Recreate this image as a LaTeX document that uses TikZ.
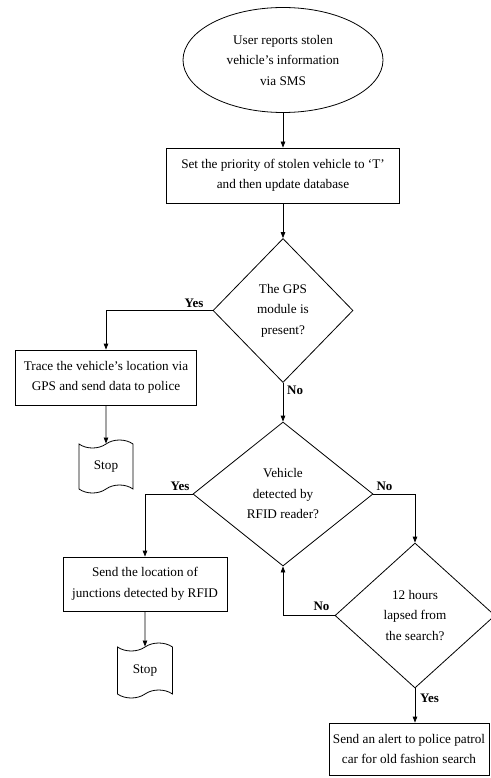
\documentclass[tikz,border=0pt]{standalone}
\usepackage{fontspec}
\setmainfont{Liberation Serif}
\usepackage{tikz}
\usetikzlibrary{positioning,arrows.meta,shapes.geometric,shapes.symbols}

\begin{document}
\begin{tikzpicture}[
  x=1pt, y=-1pt,
  every node/.style={align=center, font=\fontsize{13.2}{20.5}\selectfont, inner sep=2pt},
  proc/.style={draw, line width=0.8pt, minimum height=55pt},
  decide/.style={draw, diamond, line width=0.8pt, inner sep=0pt},
  term/.style={draw, ellipse, line width=0.8pt, minimum width=200pt, minimum height=105pt},
  stopdoc/.style={draw, tape, tape bend top=in and out, tape bend bottom=in and out,
    tape bend height=8pt, line width=0.8pt, minimum width=54pt, minimum height=53pt},
  lbl/.style={font=\fontsize{13}{15}\selectfont\bfseries, inner sep=3pt},
  arrow/.style={-{Triangle[length=6pt,width=4.5pt]}, line width=0.8pt}
]
  \useasboundingbox (0,0) rectangle (490,778);

  \node[term] (user) at (283,60)
    {User reports stolen\\vehicle’s information\\via SMS};
  \node[proc, minimum width=233pt] (prio) at (283,175.5)
    {Set the priority of stolen vehicle to ‘T’\\and then update database};
  \node[decide, minimum width=140pt, minimum height=144pt] (gps) at (283,310.5)
    {The GPS\\module is\\present?};
  \node[proc, minimum width=181pt] (trace) at (106,377.5)
    {Trace the vehicle’s location via\\GPS and send data to police};
  \node[stopdoc] (stopa) at (106,466.5) {Stop};
  \node[decide, minimum width=180pt, minimum height=144pt] (rfid) at (283,494)
    {Vehicle\\detected by\\RFID reader?};
  \node[proc, minimum width=164pt, minimum height=54pt] (junc) at (145,584)
    {Send the location of\\junctions detected by RFID};
  \node[stopdoc, minimum width=55pt, minimum height=55pt] (stopb) at (145,670.5) {Stop};
  \node[decide, minimum width=160pt, minimum height=145pt] (lapse) at (415,615.5)
    {12 hours\\lapsed from\\the search?};
  \node[proc, minimum width=160pt, minimum height=52pt] (alert) at (409,749)
    {Send an alert to police patrol\\car for old fashion search};

  \draw[arrow] (user) -- (prio);
  \draw[arrow] (prio) -- (gps);
  \draw[arrow] (gps.west) -| (trace.north);
  \draw[arrow] (trace) -- (stopa);
  \draw[arrow] (gps.south) -- (rfid.north);
  \draw[arrow] (rfid.west) -| (junc.north);
  \draw[arrow] (junc) -- (stopb);
  \draw[arrow] (rfid.east) -| (lapse.north);
  \draw[arrow] (lapse.west) -| (rfid.south);
  \draw[arrow] (lapse.south) -- (lapse.south |- alert.north);

  \node[lbl, above left=0pt and 6pt of gps.west] (yesa) {Yes};
  \node[lbl, below right=0pt and 1pt of gps.south] (noa) {No};
  \node[lbl, above left=0pt and 0pt of rfid.west] (yesb) {Yes};
  \node[lbl, above right=0pt and 0pt of rfid.east] (nob) {No};
  \node[lbl, above left=2pt and 2pt of lapse.west] (noc) {No};
  \node[lbl, below right=2pt and 2pt of lapse.south] (yesc) {Yes};
\end{tikzpicture}
\end{document}
